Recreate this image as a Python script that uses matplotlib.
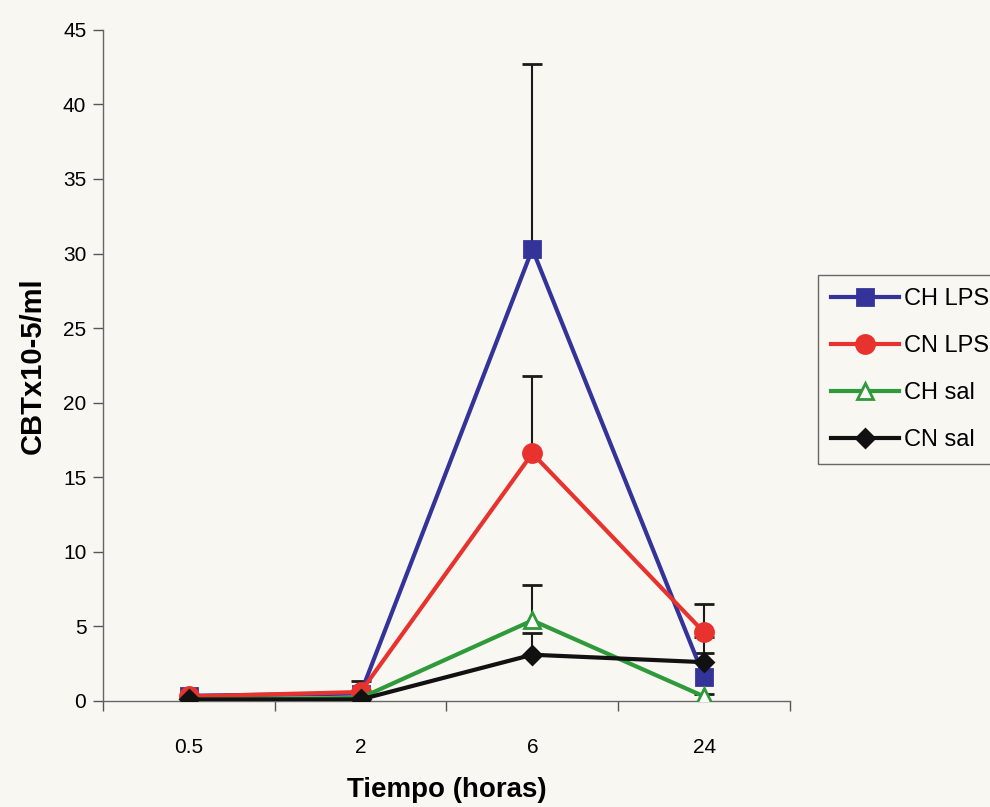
import numpy as np
import matplotlib
matplotlib.use("Agg")
from matplotlib import pyplot as plt
from matplotlib.ticker import FixedLocator, NullFormatter

plt.rcParams['font.family'] = ['Liberation Sans', 'DejaVu Sans']

# data
horas = ['0.5', '2', '6', '24']
ch_lps = [0.35, 0.5, 30.3, 1.6]
cn_lps = [0.3, 0.6, 16.6, 4.6]
ch_sal = [0.1, 0.2, 5.4, 0.3]
cn_sal = [0.1, 0.1, 3.1, 2.6]
# upper error bars only
ch_lps_err = [0.0, 0.0, 12.4, 2.7]
cn_lps_err = [0.0, 0.75, 5.2, 1.9]
ch_sal_err = [0.0, 0.0, 2.4, 0.2]
cn_sal_err = [0.0, 0.0, 1.45, 0.6]

series = [
    ('CH LPS', ch_lps, ch_lps_err, '#333399', 's', '#333399', 11),
    ('CN LPS', cn_lps, cn_lps_err, '#e8322e', 'o', '#e8322e', 13),
    ('CH sal', ch_sal, ch_sal_err, '#2f9a3a', '^', 'white', 11),
    ('CN sal', cn_sal, cn_sal_err, '#111111', 'D', '#111111', 9),
]

bg = '#f8f7f2'
fig = plt.figure(figsize=(9.9, 8.07), dpi=100, facecolor=bg)
ax = fig.add_axes([0.104, 0.1314, 0.694, 0.8316], facecolor=bg)

x = np.arange(len(horas))
for name, vals, err, col, mk, fc, ms in series:
    e = np.array(err)
    keep = e > 0
    if not keep.any():
        continue
    xs = x[keep]
    ys = np.array(vals)[keep]
    _, caps, _ = ax.errorbar(xs, ys, yerr=[np.zeros(keep.sum()), e[keep]], fmt='none',
                             ecolor='#1a1a1a', elinewidth=1.5, capsize=7.5, capthick=2,
                             zorder=2)
    caps[0].set_visible(False)  # only the upper cap

for name, vals, err, col, mk, fc, ms in series:
    ax.plot(x, vals, color=col, lw=3.0, marker=mk, markersize=ms,
            markerfacecolor=fc, markeredgecolor=col, markeredgewidth=2,
            label=name, zorder=3)

ax.set_xlim(-0.5, 3.5)
ax.set_ylim(0, 45)
ax.set_yticks(np.arange(0, 46, 5))
ax.set_xticks(x)
ax.set_xticklabels(horas)
ax.xaxis.set_minor_locator(FixedLocator(np.arange(-0.5, 3.6, 1)))
ax.xaxis.set_minor_formatter(NullFormatter())
ax.tick_params(axis='x', which='major', length=0, pad=27, labelsize=15)
ax.tick_params(axis='x', which='minor', length=7, width=1, color='#555555')
ax.tick_params(axis='y', length=7, width=1, color='#555555', labelsize=15, pad=5)

for s in ['top', 'right']:
    ax.spines[s].set_visible(False)
for s in ['left', 'bottom']:
    ax.spines[s].set_color('#666666')
    ax.spines[s].set_linewidth(1)

ax.set_xlabel('Tiempo (horas)', fontsize=20, fontweight='bold', labelpad=14)
ax.set_ylabel('CBTx10-5/ml', fontsize=21, fontweight='bold', labelpad=12)

leg = fig.legend(loc='upper left', bbox_to_anchor=(0.826, 0.659), fontsize=17,
                 frameon=True, fancybox=False, handlelength=2.9, handletextpad=0.2,
                 labelspacing=1.06, borderpad=0.55, borderaxespad=0)
leg.get_frame().set_edgecolor('#444444')
leg.get_frame().set_facecolor(bg)
leg.get_frame().set_linewidth(1)

fig.savefig('out.png', dpi=100, facecolor=bg)
